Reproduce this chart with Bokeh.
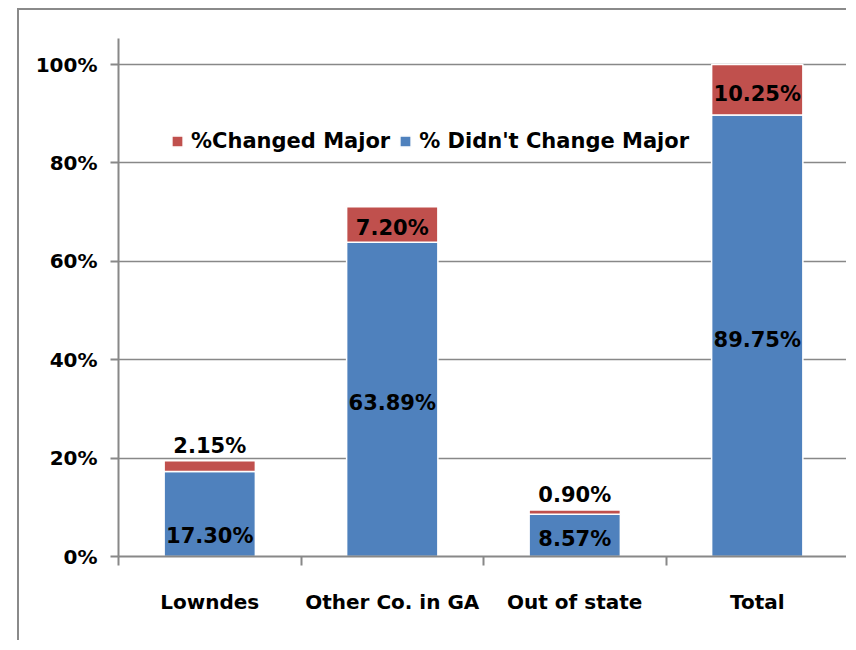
from bokeh.plotting import figure
from bokeh.models import (ColumnDataSource, Range1d, FixedTicker, NumeralTickFormatter,
                          Legend, LegendItem)
from bokeh.core.properties import value
from bokeh.embed import file_html
from bokeh.resources import INLINE

categories = ["Lowndes", "Other Co. in GA", "Out of state", "Total"]
didnt_change = [17.30, 63.89, 8.57, 89.75]   # % Didn't Change Major
changed = [2.15, 7.20, 0.90, 10.25]          # %Changed Major
blue_label_place = ["base", "center", "center", "center"]
red_label_place = ["above", "center", "above", "center"]

BLUE = "#4F81BD"
RED = "#C0504D"
GRAY = "#888888"
FONT = "DejaVu Sans"

n = len(categories)
xs = [i + 0.5 for i in range(n)]
blue_top = [v / 100 for v in didnt_change]
red_top = [(b + r) / 100 for b, r in zip(didnt_change, changed)]

p = figure(width=829, height=632, output_backend="svg", toolbar_location=None,
           x_range=Range1d(0, n), y_range=Range1d(0, 1.053),
           min_border_left=99, min_border_right=0, min_border_top=28, min_border_bottom=86,
           background_fill_color="white", border_fill_color="white")
p.styles = {"margin-left": "17px", "margin-top": "8px",
            "border-left": "2px solid #8a8a8a", "border-top": "2px solid #8a8a8a"}
p.outline_line_color = None

src = ColumnDataSource(dict(x=xs, b0=[0] * n, b1=blue_top, r1=red_top))
r_blue = p.vbar(x="x", bottom="b0", top="b1", width=0.5, source=src,
                fill_color=BLUE, line_color="white", line_width=1.5)
r_red = p.vbar(x="x", bottom="b1", top="r1", width=0.5, source=src,
               fill_color=RED, line_color="white", line_width=1.5)

# labels
lx, ly, lt, lb, lo = [], [], [], [], []
for i in range(n):
    b = blue_top[i]
    if blue_label_place[i] == "base":
        lx.append(xs[i]); ly.append(0); lb.append("bottom"); lo.append(-9)
    else:
        lx.append(xs[i]); ly.append(b / 2); lb.append("middle"); lo.append(4)
    lt.append(f"{didnt_change[i]:.2f}%")
    if red_label_place[i] == "above":
        lx.append(xs[i]); ly.append(red_top[i]); lb.append("bottom"); lo.append(-3)
    else:
        lx.append(xs[i]); ly.append((b + red_top[i]) / 2); lb.append("middle"); lo.append(4)
    lt.append(f"{changed[i]:.2f}%")
lsrc = ColumnDataSource(dict(x=lx, y=ly, t=lt, b=lb, o=lo))
p.text(x="x", y="y", text="t", text_baseline="b", y_offset="o", text_align="center",
       source=lsrc, text_font=value(FONT), text_font_style="bold",
       text_font_size="21px", text_color="black")

# axes
p.xgrid.grid_line_color = None
p.ygrid.grid_line_color = GRAY
p.ygrid.grid_line_width = 1.3
p.ygrid.ticker = FixedTicker(ticks=[0, 0.2, 0.4, 0.6, 0.8, 1.0])

ya = p.yaxis[0]
ya.ticker = FixedTicker(ticks=[0, 0.2, 0.4, 0.6, 0.8, 1.0], minor_ticks=[])
ya.formatter = NumeralTickFormatter(format="0%")
ya.axis_line_color = GRAY
ya.axis_line_width = 2
ya.major_tick_line_color = GRAY
ya.major_tick_line_width = 2
ya.major_tick_out = 8
ya.major_tick_in = 0
ya.minor_tick_line_color = None
ya.major_label_standoff = 13
ya.major_label_text_font = FONT
ya.major_label_text_font_style = "bold"
ya.major_label_text_font_size = "20px"
ya.major_label_text_color = "black"

xa = p.xaxis[0]
xa.ticker = FixedTicker(ticks=xs, minor_ticks=list(range(n + 1)))
xa.major_label_overrides = {x: c for x, c in zip(xs, categories)}
xa.axis_line_color = GRAY
xa.axis_line_width = 2
xa.major_tick_line_color = None
xa.major_tick_out = 0
xa.major_tick_in = 0
xa.minor_tick_line_color = GRAY
xa.minor_tick_line_width = 2
xa.minor_tick_out = 9
xa.minor_tick_in = 0
xa.major_label_standoff = 24
xa.major_label_text_font = FONT
xa.major_label_text_font_style = "bold"
xa.major_label_text_font_size = "20px"
xa.major_label_text_color = "black"

legend = Legend(items=[LegendItem(label="%Changed Major", renderers=[r_red]),
                       LegendItem(label="% Didn't Change Major", renderers=[r_blue])],
                orientation="horizontal", location=(52, 403),
                border_line_color=None, background_fill_alpha=0,
                padding=0, margin=0, spacing=8, label_standoff=7,
                glyph_width=14, glyph_height=14,
                label_text_font=FONT, label_text_font_style="bold",
                label_text_font_size="21px", label_text_color="black")
p.add_layout(legend)

open("out.html", "w").write(file_html(p, INLINE))
